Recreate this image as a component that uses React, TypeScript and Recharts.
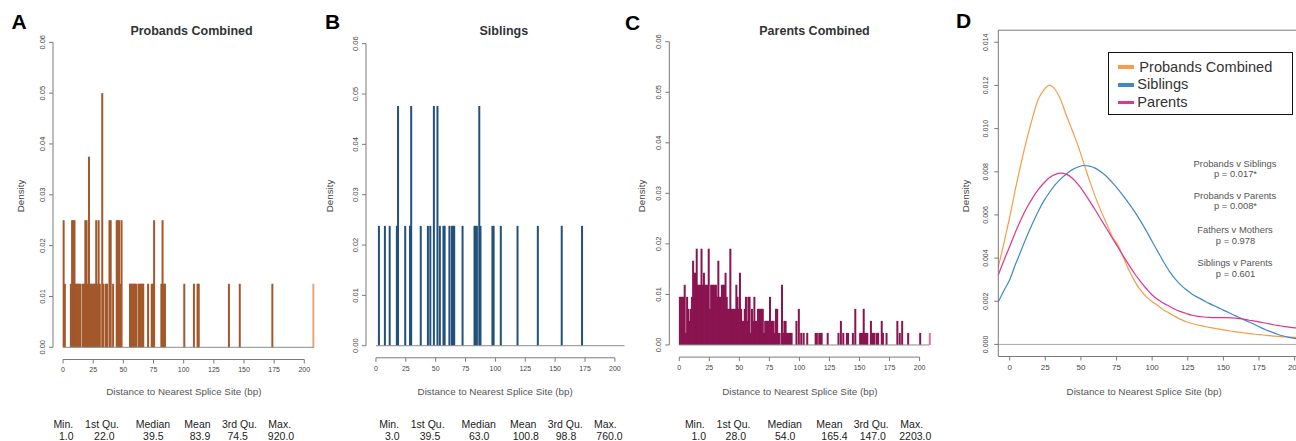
import React from "react";
import { Bar, Cell, ComposedChart, Legend, Line, ReferenceLine, XAxis, YAxis } from "recharts";

const FONT = "'Liberation Sans', Arial, Helvetica, sans-serif";
const AXIS = "#7a7a7a";

const statLabels = ["Min.", "1st Qu.", "Median", "Mean", "3rd Qu.", "Max."];
const probandStats = ["1.0", "22.0", "39.5", "83.9", "74.5", "920.0"];
const siblingStats = ["3.0", "39.5", "63.0", "100.8", "98.8", "760.0"];
const parentStats = ["1.0", "28.0", "54.0", "165.4", "147.0", "2203.0"];

const distTicks = [0, 25, 50, 75, 100, 125, 150, 175, 200];
const histTicks = [0, 0.01, 0.02, 0.03, 0.04, 0.05, 0.06];
const curveTicks = [0, 0.002, 0.004, 0.006, 0.008, 0.01, 0.012, 0.014];

// A: 1 bp bins (left edge) and counts, n = 80
const probandN = 80;
const probandBins = [
  0, 1, 6, 7, 8, 9, 10, 11, 12, 13, 14, 16, 17, 18, 19, 20, 21, 22, 23, 24, 25, 26, 27, 28, 29, 30, 32, 33, 35, 36,
  38, 39, 41, 44, 45, 46, 47, 48, 55, 56, 57, 58, 59, 60, 62, 63, 64, 65, 66, 70, 73, 74, 75, 81, 82, 83, 84, 100,
  108, 111, 112, 137, 146, 173, 207,
];
const probandCounts = [
  2, 1, 1, 2, 2, 2, 1, 1, 1, 1, 1, 1, 1, 2, 2, 1, 3, 1, 1, 1, 1, 1, 2, 1, 2, 1, 4, 1, 1, 1,
  2, 2, 1, 2, 2, 2, 1, 2, 1, 1, 1, 1, 1, 1, 1, 1, 1, 1, 1, 1, 1, 1, 2, 1, 2, 1, 1, 1,
  1, 1, 1, 1, 1, 1, 1,
];

// B: n = 42
const siblingN = 42;
const siblingBins = [
  2, 7, 11, 17, 18, 24, 28, 29, 37, 43, 45, 48, 51, 53, 56, 57, 61, 63, 64, 65, 72, 82, 83, 84, 86, 87, 97, 98, 104,
  118, 135, 155, 172,
];
const siblingCounts = [
  1, 1, 1, 1, 2, 1, 1, 2, 1, 1, 1, 2, 2, 1, 1, 1, 1, 1, 1, 1, 1, 1, 1, 1, 2, 1, 1, 1, 1,
  1, 1, 1, 1,
];

// C: n = 420
const parentN = 420;
const parentBins = [
  0, 1, 2, 3, 4, 5, 6, 7, 8, 9,
  10, 11, 12, 13, 14, 15, 16, 17, 18, 19,
  20, 21, 22, 23, 24, 25, 26, 27, 28, 29,
  30, 31, 32, 33, 34, 35, 36, 37, 38, 39,
  40, 41, 42, 43, 44, 45, 46, 47, 48, 49,
  50, 51, 52, 53, 54, 55, 56, 57, 58, 59,
  60, 61, 62, 63, 64, 65, 66, 67, 68, 69,
  70, 71, 72, 73, 74, 75, 76, 77, 78, 79,
  80, 81, 82, 83, 85, 86, 87, 88, 89, 90,
  91, 92, 93, 97, 99, 101, 103, 106, 113, 114,
  116, 117, 118, 123, 132, 134, 136, 139, 140, 144,
  146, 150, 151, 152, 153, 154, 155, 156, 159, 160,
  161, 162, 164, 165, 168, 169, 172, 181, 183, 185,
  190, 200, 208,
];
const parentCounts = [
  4, 4, 4, 4, 5, 1, 4, 3, 2, 3,
  4, 7, 6, 6, 8, 5, 5, 5, 8, 5,
  6, 5, 5, 5, 8, 3, 5, 5, 5, 5,
  5, 4, 7, 4, 4, 5, 5, 5, 6, 4,
  3, 3, 8, 3, 3, 3, 3, 5, 4, 3,
  6, 3, 2, 2, 3, 4, 2, 4, 4, 1,
  3, 2, 4, 2, 2, 3, 3, 3, 3, 3,
  1, 2, 2, 2, 2, 4, 2, 2, 2, 1,
  3, 3, 1, 1, 5, 1, 2, 2, 1, 1,
  1, 1, 1, 2, 3, 1, 1, 1, 1, 1,
  1, 1, 1, 1, 1, 2, 1, 1, 1, 1,
  3, 1, 1, 1, 3, 1, 1, 1, 2, 1,
  1, 1, 1, 1, 2, 1, 1, 2, 1, 2,
  1, 1, 1,
];

// D: density estimates
const curveX = [
  -8, -4, 0, 4, 8, 12, 16, 20, 24, 28, 32, 36, 40, 44, 48, 52, 56, 60, 64, 68, 72, 76, 80, 84, 88, 92, 96, 100,
  104, 108, 112, 116, 120, 124, 128, 132, 136, 140, 144, 148, 152, 156, 160, 164, 168, 172, 176, 180, 184, 188,
  192, 196, 200, 204, 208,
];
const probandDensity = [
  0.0036, 0.0047, 0.0059, 0.0072, 0.0084, 0.0095, 0.0105, 0.01135, 0.0118, 0.012, 0.0118, 0.0113, 0.01057, 0.0099,
  0.0092, 0.0084, 0.0076, 0.00686, 0.0062, 0.0056, 0.005, 0.0046, 0.004, 0.0034, 0.0029, 0.0025, 0.0022, 0.00198,
  0.0018, 0.0016, 0.00145, 0.0013, 0.00116, 0.00105, 0.00097, 0.0009, 0.00085, 0.00079, 0.00074, 0.0007, 0.00065,
  0.00061, 0.00057, 0.00054, 0.0005, 0.00047, 0.00045, 0.00042, 0.0004, 0.00037, 0.00035, 0.00034, 0.00033,
  0.00033, 0.00033,
];
const siblingDensity = [
  0.00198, 0.0025, 0.003, 0.0037, 0.00435, 0.005, 0.0056, 0.00616, 0.00665, 0.00705, 0.0074, 0.00768, 0.00791,
  0.0081, 0.00822, 0.00829, 0.00826, 0.00817, 0.008, 0.00778, 0.0075, 0.0072, 0.00686, 0.0065, 0.00612, 0.0057,
  0.00525, 0.00477, 0.0043, 0.00383, 0.0034, 0.00305, 0.00276, 0.00253, 0.00233, 0.00218, 0.00204, 0.0019, 0.00178,
  0.00165, 0.00153, 0.0014, 0.00128, 0.00116, 0.00104, 0.00092, 0.00079, 0.00067, 0.00057, 0.00047, 0.00039,
  0.00033, 0.00028, 0.00024, 0.0002,
];
const parentDensity = [
  0.00322, 0.0039, 0.00454, 0.0052, 0.0058, 0.00633, 0.00678, 0.00717, 0.00748, 0.00773, 0.00788, 0.00794, 0.00788,
  0.0077, 0.00742, 0.00706, 0.00665, 0.00624, 0.0058, 0.00537, 0.00493, 0.0045, 0.00407, 0.00365, 0.00325, 0.0029,
  0.00258, 0.00229, 0.00208, 0.00191, 0.00177, 0.00163, 0.00152, 0.00143, 0.00135, 0.0013, 0.00127, 0.00125,
  0.00124, 0.00124, 0.00124, 0.00123, 0.00121, 0.00117, 0.00112, 0.00108, 0.00103, 0.00098, 0.00093, 0.00088,
  0.00084, 0.0008, 0.00077, 0.00074, 0.00071,
];
const legendOrder = ["Probands Combined", "Siblings", "Parents"];

const pTests = ["Probands v Siblings", "Probands v Parents", "Fathers v Mothers", "Siblings v Parents"];
const pValues = ["p = 0.017*", "p = 0.008*", "p = 0.978", "p = 0.601"];

function histRows(bins: number[], counts: number[], n: number) {
  const rows: { mid: number; density: number }[] = [];
  for (let k = 0; k < 209; k++) rows.push({ mid: k + 0.5, density: 0 });
  bins.forEach((b, i) => {
    rows[b].density = counts[i] / n;
  });
  return rows;
}

const xTick = (baseY: number, size: number) => (p: any) => (
  <text x={p.x} y={baseY} textAnchor="middle" fontSize={size} fill="#444" fontFamily={FONT}>
    {p.payload.value}
  </text>
);

const yTick = (bx: number, size: number, digits: number) => (p: any) => (
  <text
    x={bx}
    y={p.y}
    transform={`rotate(-90 ${bx} ${p.y})`}
    textAnchor="middle"
    fontSize={size}
    fill="#444"
    fontFamily={FONT}
  >
    {Number(p.payload.value).toFixed(digits)}
  </text>
);

// R draws each 1 bp bar with a border, so they read ~2px wide
const histBar = (p: any) =>
  p.height > 0 ? <rect x={p.x + p.width / 2 - 1} y={p.y} width={2} height={p.height} fill={p.fill} /> : <g />;

const panels = [
  {
    left: 0, width: 324, yW: 53, top: 30.1, xH: 81.5, xLabelY: 372.3, yLabelX: 45.2,
    color: "#a3582b", fade: "#e8a77a", bins: probandBins, counts: probandCounts, n: probandN,
  },
  {
    left: 320, width: 314.4, yW: 46, top: 31.6, xH: 83.2, xLabelY: 370.7, yLabelX: 38.5,
    color: "#23517b", fade: "#23517b", bins: siblingBins, counts: siblingCounts, n: siblingN,
  },
  {
    left: 620, width: 319.2, yW: 49.3, top: 29.6, xH: 83.9, xLabelY: 370, yLabelX: 41.2,
    color: "#8a1450", fade: "#e070a0", bins: parentBins, counts: parentCounts, n: parentN,
  },
];

function Histogram({ cfg }: { cfg: any }) {
  const rows = histRows(cfg.bins, cfg.counts, cfg.n);
  const lastBin = cfg.bins[cfg.bins.length - 1];
  return (
    <div style={{ position: "absolute", left: cfg.left, top: 0 }}>
      <ComposedChart width={cfg.width} height={441} data={rows} margin={{ top: cfg.top, right: 0, bottom: 0, left: 0 }}>
        <XAxis
          type="number"
          dataKey="mid"
          domain={[-8.32, 216.32]}
          ticks={distTicks}
          interval={0}
          height={cfg.xH}
          axisLine={false}
          tickSize={4}
          tickLine={{ stroke: AXIS }}
          tick={xTick(cfg.xLabelY, 7)}
        />
        <YAxis
          type="number"
          domain={[-0.0024, 0.0624]}
          ticks={histTicks}
          interval={0}
          width={cfg.yW}
          axisLine={false}
          tickSize={4}
          tickLine={{ stroke: AXIS }}
          tick={yTick(cfg.yLabelX, 7.5, 2)}
        />
        <ReferenceLine segment={[{ x: 0, y: 0 }, { x: 208, y: 0 }]} stroke="#8c8c8c" ifOverflow="visible" />
        <Bar dataKey="density" shape={histBar} isAnimationActive={false}>
          {rows.map((r, i) => (
            <Cell key={i} fill={i === lastBin && i > 200 ? cfg.fade : cfg.color} />
          ))}
        </Bar>
        <ReferenceLine segment={[{ x: 0, y: -0.0024 }, { x: 200, y: -0.0024 }]} stroke={AXIS} ifOverflow="visible" />
        <ReferenceLine segment={[{ x: -8.32, y: 0 }, { x: -8.32, y: 0.06 }]} stroke={AXIS} ifOverflow="visible" />
      </ComposedChart>
    </div>
  );
}

const curveRows = curveX.map((x, i) => ({
  x,
  proband: probandDensity[i],
  sibling: siblingDensity[i],
  parent: parentDensity[i],
}));

const LegendBox = (props: any) => {
  const items = legendOrder
    .map((name) => (props.payload || []).find((e: any) => e.value === name))
    .filter(Boolean);
  return (
    <div
      style={{
        width: 185,
        height: 63,
        boxSizing: "border-box",
        border: "1.5px solid #111",
        background: "#fff",
        paddingTop: 5,
        paddingLeft: 9,
        fontFamily: FONT,
      }}
    >
      {items.map((e: any, i: number) => (
        <div key={i} style={{ display: "flex", alignItems: "center", height: 17.7 }}>
          <span style={{ display: "inline-block", width: 16, height: 3.5, background: e.color, marginRight: i === 0 ? 5 : 3 }} />
          <span style={{ fontSize: 14.6, color: "#333", lineHeight: "17px" }}>{e.value}</span>
        </div>
      ))}
    </div>
  );
};

function DensityPanel() {
  return (
    <div style={{ position: "absolute", left: 950, top: 0 }}>
      <ComposedChart width={356} height={441} data={curveRows} margin={{ top: 30.2, right: 0, bottom: 0, left: 0 }}>
        <XAxis
          type="number"
          dataKey="x"
          domain={[-8, 208]}
          ticks={distTicks}
          interval={0}
          height={84.5}
          stroke={AXIS}
          tickSize={4}
          tick={xTick(370, 8)}
        />
        <YAxis
          type="number"
          domain={[-0.00056, 0.01456]}
          ticks={curveTicks}
          interval={0}
          width={48.3}
          stroke={AXIS}
          tickSize={4}
          tick={yTick(37.8, 7, 3)}
        />
        <ReferenceLine y={0} stroke="#a8a8a8" ifOverflow="visible" />
        <ReferenceLine y={0.01456} stroke={AXIS} ifOverflow="visible" />
        <Line type="monotone" dataKey="proband" name="Probands Combined" stroke="#f79b4c" strokeWidth={1.2} dot={false} isAnimationActive={false} />
        <Line type="monotone" dataKey="sibling" name="Siblings" stroke="#4189c5" strokeWidth={1.2} dot={false} isAnimationActive={false} />
        <Line type="monotone" dataKey="parent" name="Parents" stroke="#e0358a" strokeWidth={1.2} dot={false} isAnimationActive={false} />
        <Legend
          layout="vertical"
          align="center"
          verticalAlign="middle"
          content={LegendBox}
          wrapperStyle={{ left: 158.3, top: 52.3, width: 185, height: 63 }}
        />
      </ComposedChart>
    </div>
  );
}

const letters = [
  { t: "A", x: 11.5, y: 29.3 },
  { t: "B", x: 325, y: 29.3 },
  { t: "C", x: 625, y: 30 },
  { t: "D", x: 956, y: 27.5 },
];
const titles = [
  { t: "Probands Combined", x: 191.5 },
  { t: "Siblings", x: 503.8 },
  { t: "Parents Combined", x: 814.5 },
];
const densityLabelX = [24.2, 333, 645, 969.2];
const axisTitleX = [183.8, 495.2, 799.8, 1144.2];
const statCols = [
  { labels: [63.3, 102, 153, 197.5, 239.5, 279.7], values: [66.3, 104.3, 153.3, 200, 237.7, 281], data: probandStats },
  { labels: [389.2, 427.7, 478.7, 523.2, 565.2, 605.3], values: [392.3, 430, 479.2, 525.8, 566, 609.5], data: siblingStats },
  { labels: [694.8, 733.5, 784.7, 829.5, 871.2, 911.7], values: [698.7, 735.8, 785.2, 834.5, 872.8, 915.3], data: parentStats },
];
const pTestY = [167, 199.3, 232.5, 265.5];
const pValueY = [176.7, 209, 243.5, 276.5];

function Overlay() {
  return (
    <svg width={1296} height={441} style={{ position: "absolute", left: 0, top: 0, pointerEvents: "none" }} fontFamily={FONT}>
      {letters.map((l) => (
        <text key={l.t} x={l.x} y={l.y} fontSize={21} fontWeight="bold" fill="#000">
          {l.t}
        </text>
      ))}
      {titles.map((t) => (
        <text key={t.t} x={t.x} y={35} fontSize={12.5} fontWeight="bold" fill="#333" textAnchor="middle">
          {t.t}
        </text>
      ))}
      {densityLabelX.map((x, i) => (
        <text key={i} x={x} y={196} transform={`rotate(-90 ${x} 196)`} fontSize={9.8} fill="#444" textAnchor="middle">
          Density
        </text>
      ))}
      {axisTitleX.map((x, i) => (
        <text key={i} x={x} y={394.5} fontSize={9.8} fill="#555" textAnchor="middle">
          Distance to Nearest Splice Site (bp)
        </text>
      ))}
      {statCols.map((s, j) =>
        statLabels.map((lab, i) => (
          <g key={`${j}-${i}`}>
            <text x={s.labels[i]} y={427.5} fontSize={10.5} fill="#222" textAnchor="middle">
              {lab}
            </text>
            <text x={s.values[i]} y={440} fontSize={10.5} fill="#222" textAnchor="middle">
              {s.data[i]}
            </text>
          </g>
        ))
      )}
      {pTests.map((t, i) => (
        <g key={t}>
          <text x={1235} y={pTestY[i]} fontSize={9.4} fill="#555" textAnchor="middle">
            {t}
          </text>
          <text x={1235.5} y={pValueY[i]} fontSize={9.4} fill="#555" textAnchor="middle">
            {pValues[i]}
          </text>
        </g>
      ))}
    </svg>
  );
}

export default function App() {
  return (
    <div style={{ position: "relative", width: 1296, height: 441, overflow: "hidden", background: "#fff" }}>
      <style>{"body{margin:0}"}</style>
      {panels.map((p, i) => (
        <Histogram key={i} cfg={p} />
      ))}
      <DensityPanel />
      <Overlay />
    </div>
  );
}
